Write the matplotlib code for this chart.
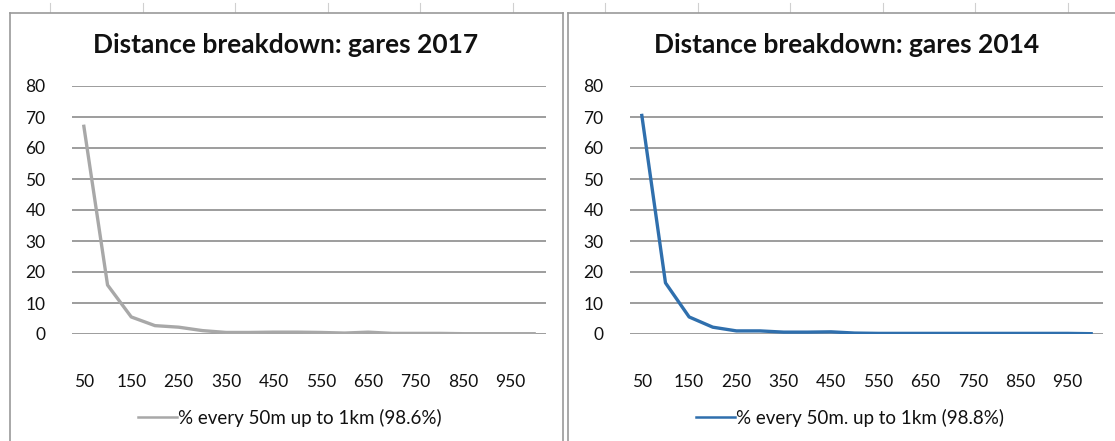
import numpy as np
import matplotlib
matplotlib.use("Agg")
import matplotlib.pyplot as plt
from matplotlib.lines import Line2D

plt.rcParams['font.family'] = ['Lato', 'DejaVu Sans']

# distance categories (m), every 50 m up to 1 km
distances = list(range(50, 1001, 50))
tick_labels = [str(d) if (d - 50) % 100 == 0 else "" for d in distances]

# % of stations per 50 m bin
gares_2017 = [67.0, 15.8, 5.5, 2.7, 2.2, 1.1, 0.5, 0.5, 0.6, 0.6,
              0.5, 0.3, 0.6, 0.2, 0.2, 0.2, 0.1, 0.1, 0.1, 0.1]
gares_2014 = [70.5, 16.5, 5.5, 2.2, 1.0, 1.0, 0.6, 0.6, 0.7, 0.3,
              0.2, 0.2, 0.2, 0.2, 0.2, 0.2, 0.2, 0.2, 0.2, 0.1]

titles = ["Distance breakdown: gares 2017", "Distance breakdown: gares 2014"]
legend_labels = ["% every 50m up to 1km (98.6%)", "% every 50m. up to 1km (98.8%)"]
colors = ["#a8a8a8", "#2f6fad"]

W, H = 1115, 441
fig = plt.figure(figsize=(W / 100, H / 100), dpi=100)

def fx(px):
    return px / W

def fy(py):
    return 1 - py / H

# spreadsheet column marks at the top
for x in np.arange(50, W, 92.5):
    fig.add_artist(Line2D([fx(x), fx(x)], [fy(3), fy(12)], color="#d0d0d0", lw=0.8))

# chart frames
fc = "#9a9a9a"
fig.add_artist(Line2D([fx(10), fx(10)], [fy(13), 0], color=fc, lw=1.2))
fig.add_artist(Line2D([fx(10), fx(563)], [fy(13), fy(13)], color=fc, lw=1.2))
fig.add_artist(Line2D([fx(563), fx(563)], [fy(13), 0], color=fc, lw=1.2))
fig.add_artist(Line2D([fx(568), fx(568)], [fy(13), 0], color=fc, lw=1.2))
fig.add_artist(Line2D([fx(568), 1], [fy(13), fy(13)], color=fc, lw=1.2))

panels = [(72, 546, gares_2017, 286, 290), (630, 1103, gares_2014, 847, 850)]
top, bottom = 86, 334

for i, (x0, x1, vals, cx, lx) in enumerate(panels):
    ax = fig.add_axes([fx(x0), fy(bottom), fx(x1 - x0), (bottom - top) / H])
    pos = np.arange(len(distances))
    ax.plot(pos, vals, color=colors[i], lw=2.4, solid_joinstyle="round", zorder=3)
    ax.set_xlim(-0.5, len(distances) - 0.5)
    ax.set_ylim(0, 80)
    ax.set_yticks(range(0, 81, 10))
    ax.set_xticks(pos)
    ax.set_xticklabels(tick_labels)
    ax.yaxis.grid(True, color="#8c8c8c", lw=1.2)
    ax.set_axisbelow(True)
    for s in ax.spines.values():
        s.set_visible(False)
    ax.tick_params(axis="both", length=0, labelsize=12.5, colors="#111111")
    ax.tick_params(axis="y", pad=19)
    ax.tick_params(axis="x", pad=29)
    fig.text(fx(cx), fy(45), titles[i], ha="center", va="center",
             fontsize=19, fontweight="bold", color="#111111")
    fig.legend(handles=[Line2D([], [], color=colors[i], lw=1.8)],
               labels=[legend_labels[i]], loc="center",
               bbox_to_anchor=(fx(lx), fy(418)), frameon=False,
               fontsize=13.5, handlelength=2.1, handletextpad=0.05,
               labelcolor="#111111")

fig.savefig("out.png", dpi=100)
